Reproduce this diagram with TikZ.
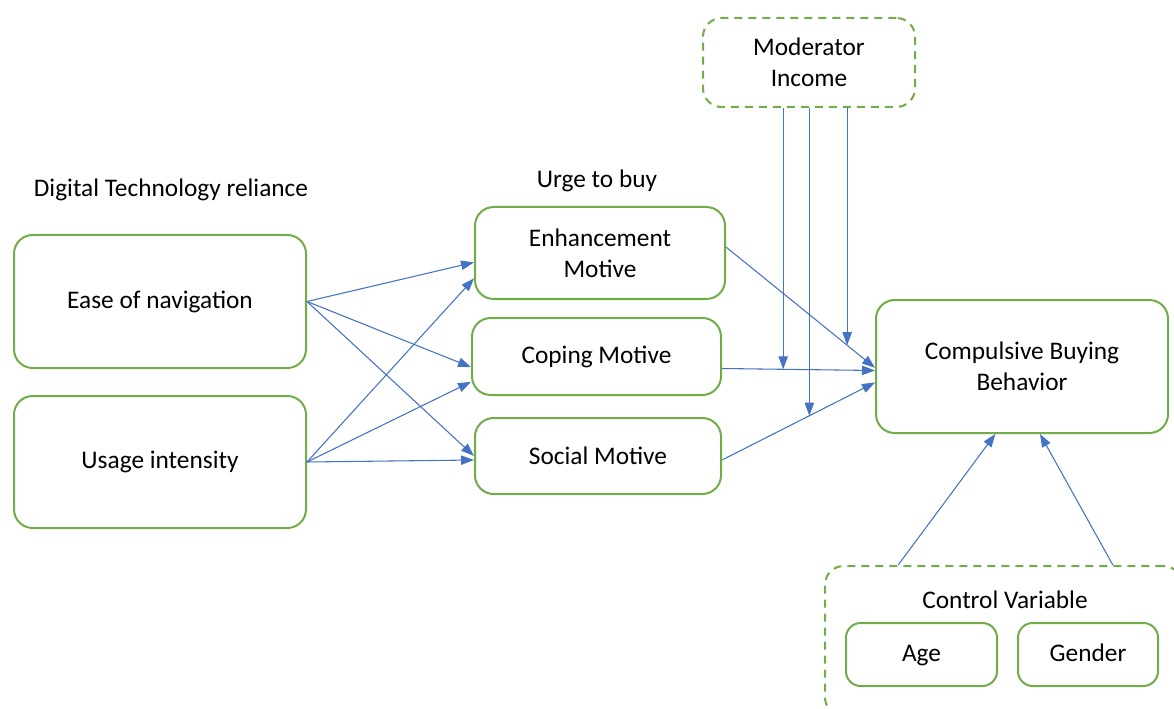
\documentclass[tikz,border=0pt]{standalone}
\usepackage{fontspec}
\setmainfont{Carlito}
\usetikzlibrary{arrows.meta}
\definecolor{boxgreen}{RGB}{112,173,71}
\definecolor{arrblue}{RGB}{68,114,196}
\begin{document}
\begin{tikzpicture}[x=0.75pt, y=-0.75pt, font=\fontsize{19}{23}\selectfont]
      \tikzstyle{box} = [draw=boxgreen, line width=1.5pt, rounded corners=14pt, align=center];
      \tikzstyle{dbox} = [box, dash pattern=on 6pt off 4.5pt];
      \tikzstyle{sbox} = [box, rounded corners=11pt, minimum height=47.25pt, text height=14pt, text depth=4pt];
      \tikzstyle{arr} = [-{Triangle[length=9.75pt,width=7pt]}, arrblue, line width=0.8pt];
      \useasboundingbox (0,0) rectangle (1174,709);
      \node at (171,190) {Digital Technology reliance};
      \node at (597,181) {Urge to buy};
      \node(nav) [box, minimum width=219pt, minimum height=99.75pt] at (160,301.5) {Ease of navigation};
      \node(use) [box, minimum width=219pt, minimum height=99pt] at (160,462) {Usage intensity};
      \node(enh) [box, minimum width=187.5pt, minimum height=69pt] at (600,253) {Enhancement\\Motive};
      \node(cop) [box, minimum width=186.75pt, minimum height=57.75pt] at (596.5,356.5) {Coping Motive};
      \node(soc) [box, minimum width=184.5pt, minimum height=57pt] at (598,456) {Social Motive};
      \node(cbb) [box, minimum width=219pt, minimum height=99.75pt] at (1022,366.5) {Compulsive Buying\\Behavior};
      \node(mod) [dbox, minimum width=159pt, minimum height=66.75pt] at (809,62.5) {Moderator\\Income};
      \node(ctl) [dbox, minimum width=267.75pt, minimum height=112.5pt] at (1003.5,641) {};
      \node at (1005,600) {Control Variable};
      \node(age) [sbox, minimum width=113.25pt] at (921.5,654.5) {Age};
      \node(gen) [sbox, minimum width=105pt] at (1088,654.5) {Gender};
      \path
      (nav.east) edge[arr] ([yshift=-7pt]enh.west)
      edge[arr] ([yshift=-8pt]cop.west)
      edge[arr] (soc.west)
      (use.east) edge[arr] ([yshift=-19pt]enh.west)
      edge[arr] ([yshift=-19pt]cop.west)
      edge[arr] ([yshift=-3pt]soc.west);
      \draw[arr] ([yshift=4.5pt]enh.east) -- coordinate[pos=0.813] (pe) ([yshift=-1pt]cbb.west);
      \draw[arr] ([yshift=-9pt]cop.east) -- coordinate[pos=0.4] (pc) ([yshift=-3pt]cbb.west);
      \draw[arr] ([yshift=-3pt]soc.east) -- coordinate[pos=0.571] (ps) ([yshift=-12pt]cbb.west);
      \draw[arr] (pc |- mod.south) -- (pc);
      \draw[arr] (ps |- mod.south) -- (ps);
      \draw[arr] (pe |- mod.south) -- (pe);
      \draw[arr] ([xshift=-79pt]ctl.north) -- ([xshift=-20pt]cbb.south);
      \draw[arr] ([xshift=82pt]ctl.north) -- ([xshift=13.5pt]cbb.south);
    \end{tikzpicture}
\end{document}
